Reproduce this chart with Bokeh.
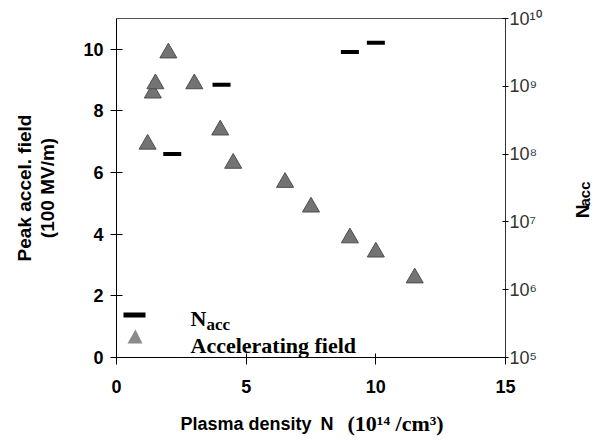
import math
from bokeh.plotting import figure
from bokeh.layouts import row, column
from bokeh.models import (Range1d, LogScale, LogAxis, FixedTicker, Label,
                          BoxAnnotation, PolyAnnotation)
from bokeh.core.properties import value
from bokeh.embed import file_html
from bokeh.resources import INLINE

# ---------------- data ----------------
field_density = [1.2, 1.4, 1.5, 2.0, 3.0, 4.0, 4.5, 6.5, 7.5, 9.0, 10.0, 11.5]
field_peak = [6.92, 8.58, 8.88, 9.88, 8.88, 7.38, 6.3, 5.68, 4.88, 3.88, 3.42, 2.58]

nacc_density = [2.15, 4.05, 9.0, 10.0]
nacc_count = [1.0e8, 1.05e9, 3.2e9, 4.4e9]

x_ticks = [0, 5, 10, 15]
y_ticks = [0, 2, 4, 6, 8, 10]
n_ticks = [1e5, 1e6, 1e7, 1e8, 1e9, 1e10]
n_tick_labels = ["10\u2075", "10\u2076", "10\u2077", "10\u2078", "10\u2079", "10\u00b9\u2070"]

left_title = "Peak accel. field\n(100 MV/m)"
bottom_title_parts = ["Plasma density", "N", "(10\u00b9\u2074 /cm\u00b3)"]
right_title_parts = ["N", "acc"]
legend_field = "Accelerating field"

# ---------------- main figure ----------------
W, H = 560, 402          # main figure size
FL, FB = 116, 357        # frame left / bottom in page pixels

p = figure(width=W, height=H, x_range=Range1d(0, 15), y_range=Range1d(0, 11),
           output_backend="svg", toolbar_location=None,
           min_border_left=116, min_border_right=W - 505, min_border_top=18,
           min_border_bottom=H - FB)
p.background_fill_color = "white"
p.border_fill_color = "white"
p.outline_line_color = "#555555"
p.xgrid.visible = False
p.ygrid.visible = False

p.extra_y_ranges = {"n": Range1d(1e5, 1e10)}
p.extra_y_scales = {"n": LogScale()}

xa = p.xaxis[0]
xa.ticker = FixedTicker(ticks=x_ticks, minor_ticks=[])
xa.major_tick_in = 4
xa.major_tick_out = 7
xa.minor_tick_in = 0
xa.minor_tick_out = 0
xa.major_label_standoff = 15
xa.major_label_text_font = "Liberation Sans"
xa.major_label_text_font_style = "bold"
xa.major_label_text_font_size = "18px"
xa.major_label_text_color = "black"
xa.axis_line_color = "black"

ya = p.yaxis[0]
ya.ticker = FixedTicker(ticks=y_ticks, minor_ticks=[])
ya.major_tick_in = 6
ya.major_tick_out = 6
ya.minor_tick_in = 0
ya.minor_tick_out = 0
ya.major_label_standoff = 7
ya.major_label_text_font = "Liberation Sans"
ya.major_label_text_font_style = "bold"
ya.major_label_text_font_size = "18px"
ya.major_label_text_color = "black"
ya.axis_line_color = "black"
ya.axis_label = left_title
ya.axis_label_text_font = "Liberation Sans"
ya.axis_label_text_font_style = "bold"
ya.axis_label_text_font_size = "19px"
ya.axis_label_text_line_height = 1.1
ya.axis_label_standoff = 22
ya.axis_label_text_color = "black"

ra = LogAxis(y_range_name="n", ticker=FixedTicker(ticks=n_ticks, minor_ticks=[]),
             major_label_overrides=dict(zip(n_ticks, n_tick_labels)))
ra.major_tick_in = 3
ra.major_tick_out = 3
ra.minor_tick_in = 0
ra.minor_tick_out = 0
ra.major_label_standoff = 1
ra.major_label_text_font = "Liberation Sans"
ra.major_label_text_font_style = "normal"
ra.major_label_text_font_size = "18px"
ra.major_label_text_color = "#333333"
ra.axis_line_color = "#333333"
p.add_layout(ra, "right")

# ---------------- data marks ----------------
p.scatter(field_density, field_peak, marker="triangle", size=17,
          fill_color="#737373", line_color="#4d4d4d", line_width=1)
p.scatter(nacc_density, nacc_count, marker="dash", size=18, y_range_name="n",
          line_color="black", line_width=4)


def lab(text, sx, sy, size, font="Liberation Serif", style="bold"):
    p.add_layout(Label(x=sx - FL, y=FB - sy, x_units="screen", y_units="screen",
                       text=text, text_font=font, text_font_style=style,
                       text_font_size=f"{size}px", text_color="black",
                       text_align="left", text_baseline="alphabetic"))


# legend (inside the frame)
p.add_layout(BoxAnnotation(left=123 - FL, right=145 - FL, top=FB - 312, bottom=FB - 317,
                           left_units="screen", right_units="screen",
                           top_units="screen", bottom_units="screen",
                           fill_color="black", fill_alpha=1, line_color=None))
p.add_layout(PolyAnnotation(xs=[127 - FL, 142 - FL, 135 - FL], ys=[FB - 343, FB - 343, FB - 329],
                            xs_units="screen", ys_units="screen",
                            fill_color="#8a8a8a", fill_alpha=1, line_color=None))
lab("N", 190, 318, 22)
lab("acc", 206, 324, 17)
lab(legend_field, 190, 345, 22)


def strip(w, h):
    s = figure(width=w, height=h, x_range=Range1d(0, w), y_range=Range1d(0, h),
               output_backend="svg", toolbar_location=None, title=None,
               min_border_left=0, min_border_right=0, min_border_top=0, min_border_bottom=0)
    s.axis.visible = False
    s.grid.visible = False
    s.outline_line_color = None
    s.background_fill_color = "white"
    s.border_fill_color = "white"
    return s


# right strip: title N_acc (rotated)
rs = strip(602 - W, H)
rs.text(x=[582 - W], y=[H - 237], text=[right_title_parts[0]], angle=math.pi / 2,
        text_font=value("Liberation Sans"), text_font_style="bold", text_font_size="19px",
        text_align="left", text_baseline="alphabetic", text_color="black")
rs.text(x=[584 - W], y=[H - 223], text=[right_title_parts[1]], angle=math.pi / 2,
        text_font=value("Liberation Sans"), text_font_style="bold", text_font_size="15px",
        text_align="left", text_baseline="alphabetic", text_color="black")

# bottom strip: x title
bs = strip(602, 441 - H)
bx = [180, 320, 347]
bfont = ["Liberation Sans", "Liberation Sans", "Liberation Serif"]
bsize = ["18px", "18px", "22px"]
for t, x0, f, sz in zip(bottom_title_parts, bx, bfont, bsize):
    bs.text(x=[x0], y=[441 - 423], text=[t], text_font=value(f), text_font_style="bold",
            text_font_size=sz, text_align="left", text_baseline="alphabetic", text_color="black")

layout = column(row(p, rs), bs)
open("out.html", "w").write(file_html(layout, INLINE))
